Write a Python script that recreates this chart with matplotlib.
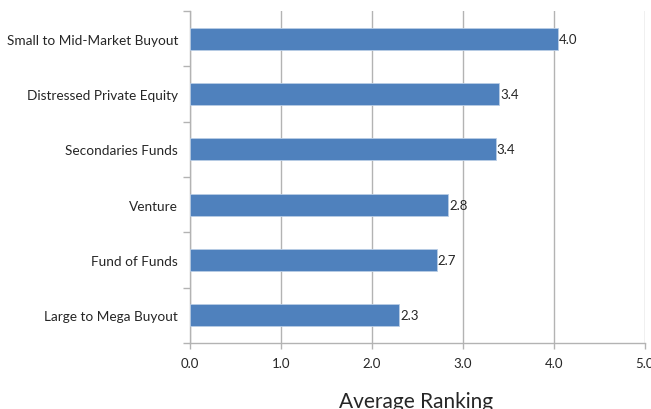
import matplotlib.pyplot as plt
import numpy as np

categories = ["Large to Mega Buyout", "Fund of Funds", "Venture",
              "Secondaries Funds", "Distressed Private Equity",
              "Small to Mid-Market Buyout"]
values = [2.30, 2.71, 2.84, 3.36, 3.40, 4.04]
labels = ["2.3", "2.7", "2.8", "3.4", "3.4", "4.0"]
xticks = [0, 1, 2, 3, 4, 5]

plt.rcParams['font.family'] = ['Lato', 'DejaVu Sans']
text_col = '#262626'
grid_col = '#b3b3b3'

fig = plt.figure(figsize=(6.51, 4.10), dpi=100)
ax = fig.add_axes([190 / 651, 1 - 344 / 410, 455 / 651, 332 / 410])

y = np.arange(len(categories))
ax.barh(y, values, height=0.4, color='#4f81bd', edgecolor='#b9cde5',
        linewidth=0.6, zorder=3)
for yi, v, lab in zip(y, values, labels):
    ax.text(v + 0.01, yi, lab, va='center', ha='left', fontsize=9.5,
            color=text_col, zorder=4)

ax.set_xlim(0, 5)
ax.set_ylim(-0.5, len(categories) - 0.5)
ax.set_xticks(xticks)
ax.set_xticklabels(["%.1f" % t for t in xticks], fontsize=9.5, color=text_col)
ax.set_yticks(y)
ax.set_yticklabels(categories, fontsize=9.8, color=text_col)
ax.tick_params(axis='y', length=0, pad=8.5)
ax.set_yticks(np.arange(-0.5, len(categories), 1), minor=True)
ax.tick_params(axis='y', which='minor', length=5, color=grid_col, width=1)
ax.tick_params(axis='x', length=4, color=grid_col, width=1, pad=6)
ax.grid(axis='x', color=grid_col, linewidth=1, zorder=0)

for s in ['top', 'right']:
    ax.spines[s].set_visible(False)
for s in ['left', 'bottom']:
    ax.spines[s].set_color(grid_col)
    ax.spines[s].set_linewidth(1)

fig.text(416 / 651, 2 / 410, "Average Ranking", ha='center', va='baseline',
         fontsize=15, color=text_col)

fig.savefig("out.png", dpi=100)
